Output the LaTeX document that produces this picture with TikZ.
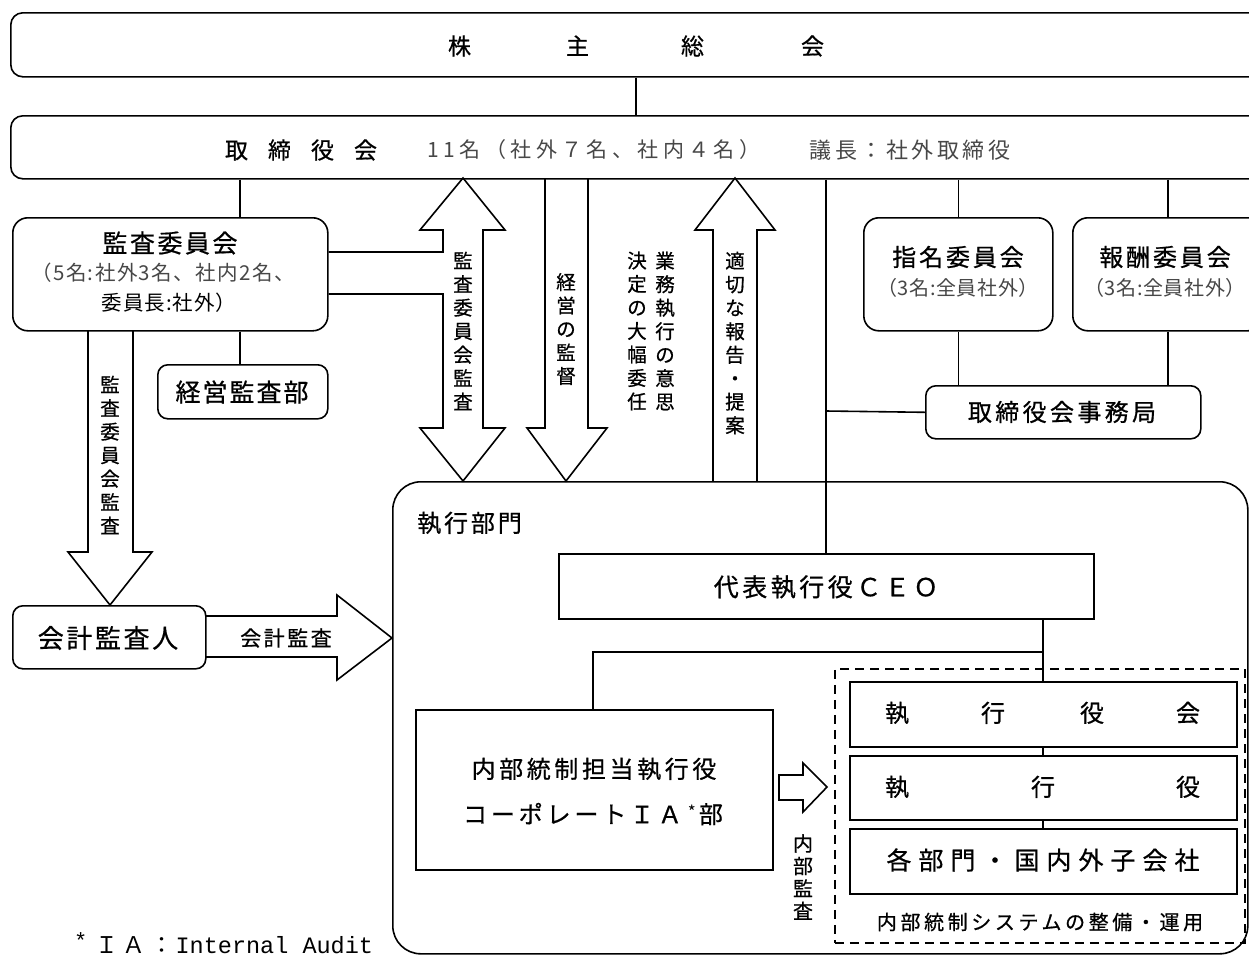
\documentclass[tikz,border=0pt]{standalone}
\usepackage{fontspec}
\setmainfont{Noto Sans CJK JP}[FakeBold=0.7]
\setmonofont{Liberation Mono}
\newfontfamily\ltjp{Noto Sans CJK JP}
\newcommand{\fs}[2]{\fontsize{#1}{#2}\selectfont}
\newcommand{\ls}[1]{\addfontfeatures{LetterSpace=#1}}
\tikzset{
  lw/.style={line width=1.6pt},
  ln/.style={lw, line join=miter},
  rbox/.style={draw, lw, rounded corners=#1, inner sep=0pt},
  rbox/.default=14pt,
  sbox/.style={draw, lw, inner sep=0pt},
  blk/.style={draw, lw, line join=miter},
  txt/.style={inner sep=0pt, anchor=center},
  gtxt/.style={txt, text=black!72},
  vt/.style={txt, align=center, font=\fs{19.5}{23.5}},
}
\begin{document}
\begin{tikzpicture}[x=1pt,y=-1pt]
\useasboundingbox (0,0) rectangle (1249,956);
\clip (0,0) rectangle (1249,956);

% ---- boxes ----
\node[rbox=12pt, minimum width=1252pt, minimum height=64pt, anchor=north west] (gm) at (10,12) {};
\node[txt, font=\fs{23}{23}] (gmt) at (636,46) {株\hspace{95pt}主\hspace{92pt}総\hspace{97pt}会};

\node[rbox=12pt, minimum width=1252pt, minimum height=63pt, anchor=north west] (bd) at (10,115) {};
\node[txt, font=\fs{23}{23}] (bdt) at (301,150) {取\hspace{20pt}締\hspace{20pt}役\hspace{20pt}会};
\node[gtxt, font=\ltjp\fs{21}{21}\ls{21}] (bdn) at (594,150) {11名（社外７名、社内４名）};
\node[gtxt, font=\ltjp\fs{22}{22}\ls{16}] (bdc) at (910,150) {議長：社外取締役};

\node[rbox=15pt, minimum width=315pt, minimum height=113pt, anchor=north west] (ac) at (12,217) {};
\node[txt, font=\fs{25}{25}\ls{10}] (act1) at (170,243) {監査委員会};
\node[gtxt, font=\ltjp\fs{20.5}{20.5}\ls{7}] (act2) at (163,273) {（5名:社外3名、社内2名、};
\node[txt, font=\ltjp\fs{20.5}{20.5}\ls{5}] (act3) at (169,303) {委員長:社外）};

\node[rbox=10pt, minimum width=170pt, minimum height=54pt, anchor=north west] (md) at (157,364) {};
\node[txt, font=\fs{25}{25}\ls{8}] (mdt) at (242,392) {経営監査部};

\node[rbox=10pt, minimum width=193pt, minimum height=63pt, anchor=north west] (ca) at (12,605) {};
\node[txt, font=\fs{26}{26}\ls{10}] (cat) at (108,638) {会計監査人};

\node[rbox=15pt, minimum width=189pt, minimum height=113pt, anchor=north west] (nc) at (863,217) {};
\node[txt, font=\fs{24}{24}\ls{12}] (nct1) at (958,257) {指名委員会};
\node[gtxt, font=\ltjp\fs{20}{20}\ls{3}] (nct2) at (958,288) {（3名:全員社外）};

\node[rbox=15pt, minimum width=190pt, minimum height=113pt, anchor=north west] (rc) at (1072,217) {};
\node[txt, font=\fs{24}{24}\ls{12}] (rct1) at (1165,257) {報酬委員会};
\node[gtxt, font=\ltjp\fs{20}{20}\ls{3}] (rct2) at (1165,288) {（3名:全員社外）};

\node[rbox=10pt, minimum width=275pt, minimum height=53pt, anchor=north west] (sec) at (925,385) {};
\node[txt, font=\fs{24}{24}\ls{14}] (sect) at (1062,412) {取締役会事務局};

% executive division
\node[rbox=28pt, minimum width=855pt, minimum height=472pt, anchor=north west] (ex) at (392,481) {};
\node[txt, font=\fs{24}{24}\ls{12}, anchor=west] (ext) at (417,523) {執行部門};

\node[sbox, minimum width=535pt, minimum height=65pt, anchor=north west] (ceo) at (558,553) {};
\node[txt, font=\fs{25}{25}\ls{14}] (ceot) at (826,587) {代表執行役ＣＥＯ};

\node[sbox, minimum width=357pt, minimum height=160pt, anchor=north west] (ic) at (415,709) {};
\node[txt, font=\fs{24}{24}\ls{15}] (ict1) at (594,769) {内部統制担当執行役};
\node[txt, font=\fs{24}{24}\ls{16}] (ict2) at (593,814) {コーポレートＩＡ\hspace{6pt}\raisebox{5pt}{\ltjp\fs{17}{17}*}\hspace{3pt}部};

\node[draw, lw, dashed, dash pattern=on 9pt off 6pt, minimum width=410pt, minimum height=274pt, anchor=north west, inner sep=0pt] (ds) at (834,668) {};
\node[sbox, minimum width=387pt, minimum height=65pt, anchor=north west] (r1) at (849,681) {};
\node[txt, font=\fs{24}{24}] (r1t) at (1042.5,713) {執\hspace{72pt}行\hspace{75pt}役\hspace{72pt}会};
\node[sbox, minimum width=387pt, minimum height=64pt, anchor=north west] (r2) at (849,755) {};
\node[txt, font=\fs{24}{24}] (r2t) at (1042.5,787) {執\hspace{122pt}行\hspace{121pt}役};
\node[sbox, minimum width=387pt, minimum height=65pt, anchor=north west] (r3) at (849,828) {};
\node[txt, font=\fs{25}{25}\ls{28}] (r3t) at (1043,860) {各部門・国内外子会社};
\node[txt, font=\fs{20}{20}\ls{18}] (dst) at (1040,922) {内部統制システムの整備・運用};

% ---- connectors ----
\draw[ln] (gm.south -| 636,0) -- (bd.north -| 636,0);
\draw[ln] (bd.south -| 240,0) -- (ac.north -| 240,0);
\draw[ln] (ac.south -| 240,0) -- (md.north -| 240,0);
\draw[ln] (bd.south -| nc.north) -- (nc.north);
\draw[ln] (bd.south -| rc.north) -- (rc.north);
\draw[ln] (nc.south) -- (sec.north -| nc.south);
\draw[ln] (rc.south) -- (sec.north -| rc.south);
\draw[ln] (bd.south -| 826,0) -- (ceo.north -| 826,0);
\coordinate (jn) at (826,411);
\draw[ln] (jn) -- (sec.west);
\draw[ln] (ceo.south -| 1043,0) -- (r1.north -| 1043,0);
\coordinate (br) at (1043,652);
\draw[ln] (br) -| (ic.north -| 593,0);
\draw[ln] (r1.south -| 1043,0) -- (r2.north -| 1043,0);
\draw[ln] (r2.south -| 1043,0) -- (r3.north -| 1043,0);

% ---- block arrows ----
\draw[blk] (ac.east |- 0,294) -- (443,294) -- (443,428) -- (420,428) -- (463,481) -- (505,428) -- (483,428)
  -- (483,230) -- (505,230) -- (463,178) -- (420,230) -- (443,230) -- (443,252) -- (ac.east |- 0,252);
\node[vt] (v1) at (463,331) {監\\査\\委\\員\\会\\監\\査};

\draw[blk] (545,178) -- (545,428) -- (527,428) -- (566,481) -- (607,428) -- (588,428) -- (588,178);
\node[vt] (v2) at (566,329) {経\\営\\の\\監\\督};

\node[vt] (v3a) at (665,331) {業\\務\\執\\行\\の\\意\\思};
\node[vt] (v3b) at (637,331) {決\\定\\の\\大\\幅\\委\\任};

\draw[blk] (713,481) -- (713,230) -- (695,230) -- (735,178) -- (775,230) -- (757,230) -- (757,481);
\node[vt] (v4) at (735,343) {適\\切\\な\\報\\告\\・\\提\\案};

\draw[blk] (88,330) -- (88,552) -- (68,552) -- (110,605) -- (152,552) -- (133,552) -- (133,330);
\node[vt] (v5) at (110,455) {監\\査\\委\\員\\会\\監\\査};

\draw[blk] (205,616) -- (337,616) -- (337,595) -- (392,638) -- (337,680) -- (337,657) -- (205,657);
\node[txt, font=\fs{21}{21}\ls{12}] (caa) at (286,638) {会計監査};

\draw[blk] (779,775) -- (803,775) -- (803,763) -- (827,787) -- (803,812) -- (803,800) -- (779,800) -- cycle;
\node[vt, font=\fs{20}{22.5}] (v6) at (803,877) {内\\部\\監\\査};

% footnote
\node[txt, anchor=west] (fn) at (74,943) {\raisebox{5pt}{\ttfamily\fs{22}{22}*}\hspace{8pt}{\ltjp\fs{23}{23}\ls{20}ＩＡ：}\hspace{2pt}{\ttfamily\fs{23.5}{23.5}Internal Audit}};
\end{tikzpicture}
\end{document}
